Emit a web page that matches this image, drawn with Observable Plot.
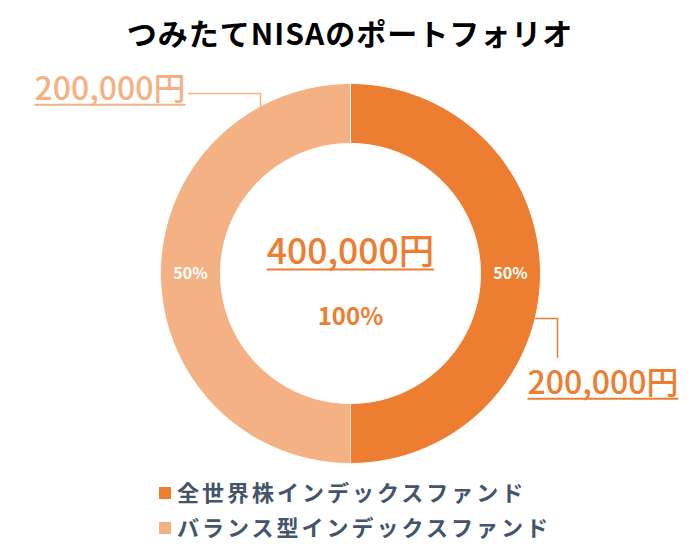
<!DOCTYPE html>
<html>
<head>
<meta charset="utf-8">
<script src="https://cdn.jsdelivr.net/npm/d3@7"></script>
<script src="https://cdn.jsdelivr.net/npm/@observablehq/plot@0.6"></script>
<style>
  body { margin: 0; background: #fff; width: 700px; height: 557px; overflow: hidden; font-family: "Noto Sans CJK JP", "Noto Sans", sans-serif; }
  #title { height: 64px; line-height: 64px; text-align: center; font-size: 30px; font-weight: 700; color: #000; letter-spacing: 1px; }
  #chart svg { display: block; overflow: visible; }
  #legend { padding-left: 159px; }
  .row { height: 35px; line-height: 35px; font-size: 22px; font-weight: 700; color: #44546A; letter-spacing: 3px; white-space: nowrap; }
  .sw { display: inline-block; width: 12px; height: 12px; margin-right: 6px; vertical-align: middle; position: relative; top: -2px; }
</style>
</head>
<body>
<div id="title">つみたてNISAのポートフォリオ</div>
<div id="chart"></div>
<div id="legend"></div>
<script>
// ---- data ----
const titleText = "つみたてNISAのポートフォリオ";
const funds = ["全世界株インデックスファンド", "バランス型インデックスファンド"];
const amounts = [200000, 200000];
const colors = ["#ED7D31", "#F4B183"];

// ---- layout constants ----
const R_OUT = 190, R_IN = 130, R_LABEL = 160;
// leader lines & label placement (relative to donut centre, y downward)
const leaderPts = [
  [[185, 45], [207, 45], [207, 84]],
  [[-90, -167.3], [-90, -180], [-162, -180]]
];
const labelPos = [
  {x: 177, y: 110, anchor: "start"},
  {x: -165, y: -184, anchor: "end"}
];

const total = d3.sum(amounts);
const rows = funds.map((name, i) => ({name, amount: amounts[i], color: colors[i]}));
const arcs = d3.pie().sort(null).value(d => d.amount)(rows);

// slice polygons
const polys = [];
arcs.forEach(a => {
  const n = 120;
  for (let k = 0; k <= n; k++) {
    const t = a.startAngle + (a.endAngle - a.startAngle) * k / n;
    polys.push({name: a.data.name, x: R_OUT * Math.sin(t), y: -R_OUT * Math.cos(t)});
  }
  for (let k = n; k >= 0; k--) {
    const t = a.startAngle + (a.endAngle - a.startAngle) * k / n;
    polys.push({name: a.data.name, x: R_IN * Math.sin(t), y: -R_IN * Math.cos(t)});
  }
});

const fmt = d3.format(",");
const pctLabels = arcs.map(a => {
  const m = (a.startAngle + a.endAngle) / 2;
  return {x: R_LABEL * Math.sin(m), y: -R_LABEL * Math.cos(m), text: Math.round(a.data.amount / total * 100) + "%"};
});
const leaders = [];
leaderPts.forEach((pts, i) => pts.forEach(p => leaders.push({name: funds[i], x: p[0], y: p[1]})));
const valueLabels = arcs.map((a, i) => ({...labelPos[i], text: fmt(a.data.amount) + "円", name: a.data.name}));

const FONT = "Noto Sans CJK JP";
const plot = Plot.plot({
  width: 700,
  height: 410,
  margin: 0,
  style: {fontFamily: FONT, background: "#fff", overflow: "visible"},
  x: {domain: [-350, 350], axis: null},
  y: {domain: [-209, 201], reverse: true, axis: null},
  color: {domain: funds, range: colors},
  marks: [
    Plot.line(polys, {x: "x", y: "y", z: "name", fill: "name", stroke: "white", strokeWidth: 1, curve: "linear"}),
    Plot.line(leaders, {x: "x", y: "y", z: "name", stroke: "name", strokeWidth: 1.5}),
    Plot.text(pctLabels, {x: "x", y: "y", text: "text", fill: "white", fontSize: 16, fontWeight: 700, fontFamily: FONT}),
    Plot.text(valueLabels.filter(d => d.anchor === "start"), {x: "x", y: "y", text: "text", fill: "name", fontSize: 32, fontWeight: 500, fontFamily: FONT, textAnchor: "start"}),
    Plot.text(valueLabels.filter(d => d.anchor === "end"), {x: "x", y: "y", text: "text", fill: "name", fontSize: 32, fontWeight: 500, fontFamily: FONT, textAnchor: "end"}),
    Plot.text([fmt(total) + "円"], {x: 0, y: -21, text: d => d, fill: colors[0], fontSize: 35.5, fontWeight: 500, fontFamily: FONT}),
    Plot.text([Math.round(total / total * 100) + "%"], {x: 0, y: 44, text: d => d, fill: colors[0], fontSize: 24, fontWeight: 700, fontFamily: FONT})
  ]
});
document.getElementById("chart").appendChild(plot);

// underline the yen amounts, a little below the baseline (as in the reference)
d3.select(plot).selectAll("text").filter(function() { return this.textContent.includes("円"); })
  .each(function() {
    const fs = parseFloat(getComputedStyle(this).fontSize);
    const fill = getComputedStyle(this).fill;
    const bb = this.getBBox();
    const p = this.getStartPositionOfChar(0);
    const uy = p.y + fs * 0.16;
    d3.select(this.parentNode).append("line")
      .attr("transform", this.getAttribute("transform"))
      .attr("x1", bb.x).attr("x2", bb.x + bb.width)
      .attr("y1", uy).attr("y2", uy)
      .attr("stroke", fill).attr("stroke-width", 2);
  });

const legend = d3.select("#legend");
rows.forEach(r => {
  const row = legend.append("div").attr("class", "row");
  row.append("span").attr("class", "sw").style("background", r.color);
  row.append("span").text(r.name);
});
</script>
</body>
</html>
